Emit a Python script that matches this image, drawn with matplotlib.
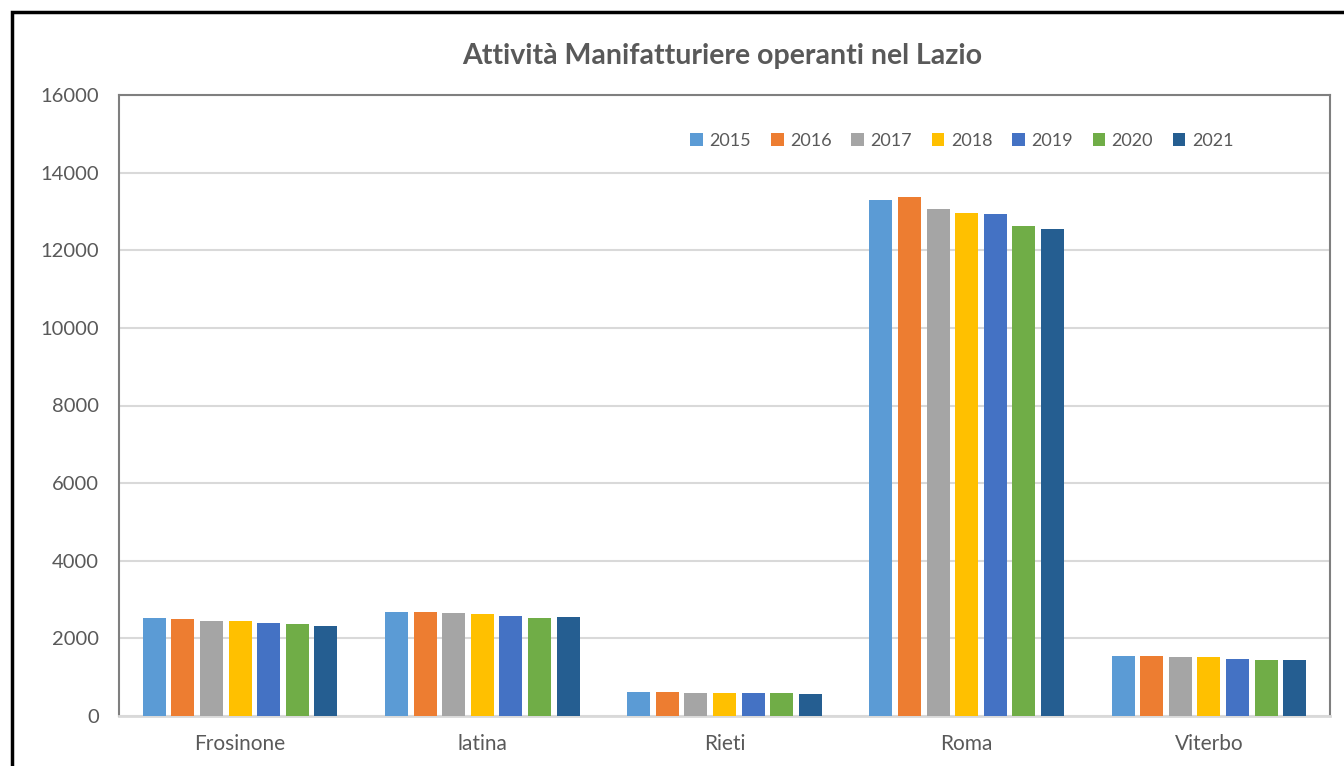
import numpy as np
import matplotlib.pyplot as plt
from matplotlib.patches import Rectangle

provinces = ["Frosinone", "latina", "Rieti", "Roma", "Viterbo"]
years = ["2015", "2016", "2017", "2018", "2019", "2020", "2021"]

v2015 = [2530, 2690, 630, 13300, 1550]
v2016 = [2490, 2690, 630, 13360, 1550]
v2017 = [2450, 2660, 600, 13060, 1520]
v2018 = [2450, 2640, 600, 12970, 1520]
v2019 = [2390, 2580, 600, 12930, 1460]
v2020 = [2360, 2530, 600, 12630, 1445]
v2021 = [2310, 2560, 570, 12540, 1445]

colors = ["#5B9BD5", "#ED7D31", "#A5A5A5", "#FFC000", "#4472C4", "#70AD47", "#255E91"]

plt.rcParams['font.family'] = ['Lato', 'DejaVu Sans']

W, H = 1344, 766
fig = plt.figure(figsize=(W / 100, H / 100), dpi=100)
ax = fig.add_axes([119 / W, 1 - 716 / H, (1330 - 119) / W, (716 - 95) / H])

# outer chart border (cut off on right/bottom like the screenshot)
fig.patches.append(Rectangle((12 / W, -0.05), 1.2, 1 - 12 / H + 0.05,
                             transform=fig.transFigure, fill=False,
                             edgecolor='black', linewidth=2.5))

series = [v2015, v2016, v2017, v2018, v2019, v2020, v2021]
x = np.arange(len(provinces))
pitch = 0.118
width = 0.095
for i, (vals, c, yr) in enumerate(zip(series, colors, years)):
    ax.bar(x + (i - 3) * pitch, vals, width, color=c, label=yr, zorder=3)

ax.set_xlim(-0.5, len(provinces) - 0.5)
ax.set_ylim(0, 16000)
ax.set_yticks(range(0, 16001, 2000))
ax.set_xticks(x)
ax.set_xticklabels(provinces)
ax.yaxis.grid(True, color='#D9D9D9', linewidth=1.5, zorder=0)
ax.tick_params(axis='both', length=0, colors='#595959')
ax.tick_params(axis='y', pad=14.5, labelsize=14.5)
ax.tick_params(axis='x', pad=13, labelsize=15)

for s in ['left', 'top', 'right']:
    ax.spines[s].set_color('#7F7F7F')
    ax.spines[s].set_linewidth(1.5)
ax.spines['bottom'].set_color('#D9D9D9')
ax.spines['bottom'].set_linewidth(2)

ax.legend(loc='upper center', bbox_to_anchor=(0.696, 0.965), ncol=7, frameon=False,
          fontsize=13, labelcolor='#595959', handlelength=0.7, handleheight=0.7,
          handletextpad=0.35, columnspacing=1.1)

fig.text(722 / W, 1 - 56 / H, "Attività Manifatturiere operanti nel Lazio",
         ha='center', va='center', fontsize=20.5, fontweight='bold', color='#595959')

fig.savefig("out.png", dpi=100)
